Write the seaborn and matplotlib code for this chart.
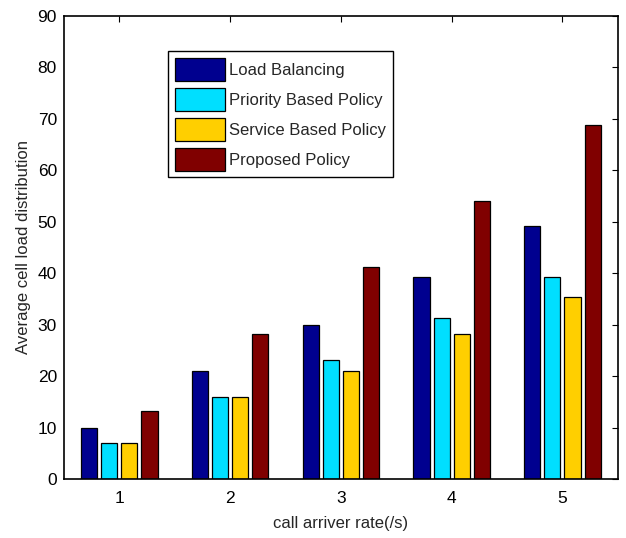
import numpy as np
import pandas as pd
import matplotlib
matplotlib.use('Agg')
import matplotlib.pyplot as plt
import seaborn as sns

rates = ['1', '2', '3', '4', '5']
policies = ['Load Balancing', 'Priority Based Policy', 'Service Based Policy', 'Proposed Policy']
load_balancing = [10, 21, 30, 39.3, 49.2]
priority_based = [7, 16, 23.2, 31.2, 39.3]
service_based = [7, 16, 21, 28.1, 35.3]
proposed = [13.2, 28.1, 41.2, 54.1, 68.7]
colors = ['#00008F', '#00DFFF', '#FFCF00', '#800000']

df = pd.DataFrame({
    'rate': rates * 4,
    'policy': np.repeat(policies, len(rates)),
    'value': load_balancing + priority_based + service_based + proposed,
})

sns.set_style('white')
plt.rcParams['font.family'] = ['Liberation Sans', 'DejaVu Sans']

fig = plt.figure(figsize=(6.26, 5.38), dpi=100)
ax = fig.add_axes([0.102, 0.1097, 0.885, 0.861])
sns.barplot(data=df, x='rate', y='value', hue='policy', palette=colors, saturation=1,
            width=0.727, gap=0.2, edgecolor='black', linewidth=0.9, ax=ax)

ax.set_xlim(-0.5, 4.5)
ax.set_ylim(0, 90)
ax.set_yticks(range(0, 91, 10))
ax.set_xlabel('call arriver rate(/s)', fontsize=12, labelpad=7)
ax.set_ylabel('Average cell load distribution', fontsize=12, labelpad=5)
ax.tick_params(direction='in', length=4, width=0.8, top=True, right=True,
               labelsize=12.5, colors='black')
ax.tick_params(axis='x', pad=9)
ax.tick_params(axis='y', pad=5)
for s in ax.spines.values():
    s.set_visible(True)
    s.set_color('black')
    s.set_linewidth(1.2)

leg = ax.legend(loc='upper left', bbox_to_anchor=(0.188, 0.924), borderaxespad=0,
                fontsize=12, fancybox=False, edgecolor='black', framealpha=1,
                handlelength=3.0, handleheight=1.75, labelspacing=0.42, handletextpad=0.25,
                borderpad=0.4)
leg.get_frame().set_linewidth(1.0)
leg.set_title(None)

fig.savefig('out.png', dpi=100)
